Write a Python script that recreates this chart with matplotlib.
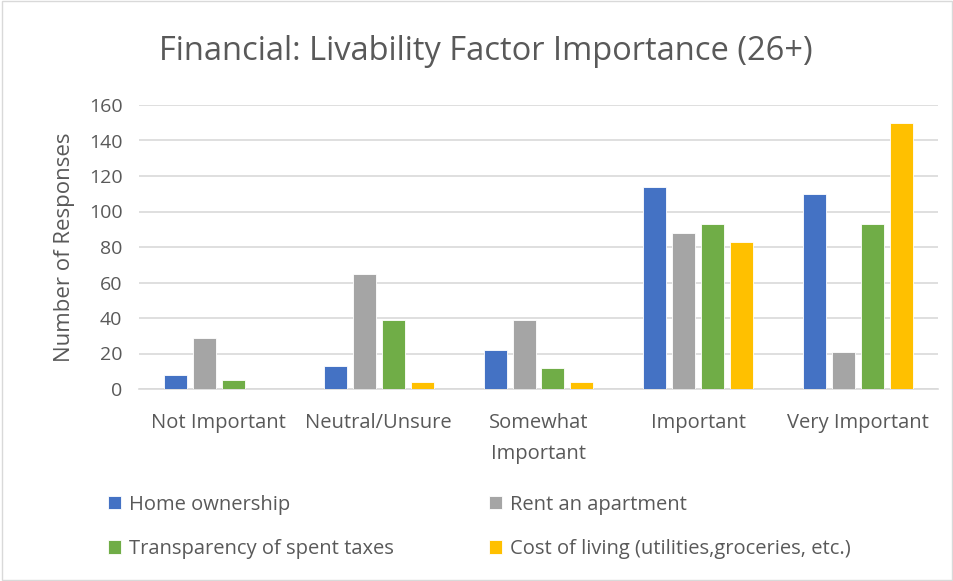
import matplotlib
matplotlib.use("Agg")
import matplotlib.pyplot as plt
import numpy as np

categories = ["Not Important", "Neutral/Unsure", "Somewhat\nImportant", "Important", "Very Important"]
series_names = ["Home ownership", "Rent an apartment", "Transparency of spent taxes",
                "Cost of living (utilities,groceries, etc.)"]
home = [8, 13, 22, 114, 110]
rent = [29, 65, 39, 88, 21]
taxes = [5, 39, 12, 93, 93]
cost = [0, 4, 4, 83, 150]
colors = ["#4472C4", "#A5A5A5", "#70AD47", "#FFC000"]
yticks = [0, 20, 40, 60, 80, 100, 120, 140, 160]

plt.rcParams["font.family"] = ["Open Sans", "DejaVu Sans"]
txt = "#595959"

fig = plt.figure(figsize=(9.54, 5.81), dpi=100)
ax = fig.add_axes([139 / 954, 1 - 389 / 581, 799 / 954, 284 / 581])

x = np.arange(len(categories))
step = 0.181
width = 0.144
bars = []
for i, (vals, name) in enumerate(zip([home, rent, taxes, cost], series_names)):
    b = ax.bar(x + (i - 1.5) * step, vals, width, color=colors[i], label=name,
               edgecolor="white", linewidth=0.6, zorder=3)
    bars.append(b)

ax.set_xlim(-0.5, len(categories) - 0.5)
ax.set_ylim(0, 160)
ax.set_yticks(yticks)
ax.set_xticks(x)
ax.set_xticklabels(categories, fontsize=14.5, color=txt, linespacing=1.75)
ax.tick_params(axis="y", labelsize=14, colors=txt, length=0, pad=12)
ax.tick_params(axis="x", length=0, pad=17)
ax.grid(axis="y", color="#D9D9D9", linewidth=1.2, zorder=0)
for s in ["top", "right", "left"]:
    ax.spines[s].set_visible(False)
ax.spines["bottom"].set_color("#D9D9D9")
ax.spines["bottom"].set_linewidth(1.2)

ax.set_ylabel("Number of Responses", fontsize=16, color=txt, labelpad=10)
fig.text(486 / 954, 1 - 51 / 581, "Financial: Livability Factor Importance (26+)",
         fontsize=23.5, color=txt, ha="center", va="center")

# legend fills row by row: Home, Rent / Taxes, Cost
order = [0, 2, 1, 3]
fig.legend([bars[i] for i in order], [series_names[i] for i in order],
           loc="lower left", bbox_to_anchor=(90 / 954, 4 / 581), ncol=2, frameon=False,
           fontsize=14.5, labelcolor=txt, handlelength=0.65, handleheight=0.65,
           handletextpad=0.4, columnspacing=4.7, labelspacing=1.2)

border = plt.Rectangle((0.002, 0.002), 0.996, 0.996, transform=fig.transFigure,
                       fill=False, edgecolor="#D9D9D9", linewidth=1)
fig.patches.append(border)

fig.savefig("out.png", dpi=100)
